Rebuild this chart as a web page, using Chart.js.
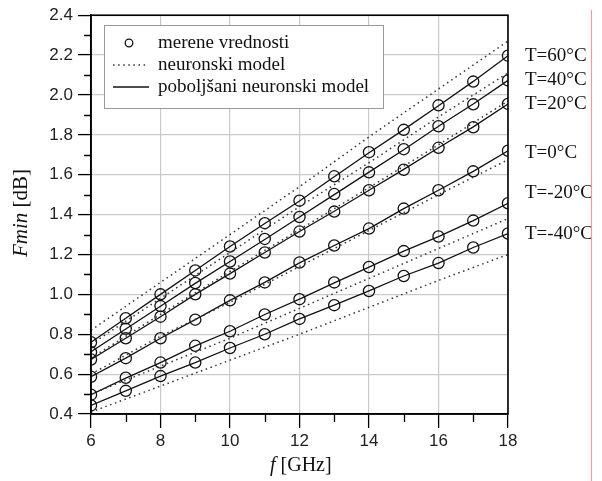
<!DOCTYPE html>
<html><head><meta charset="utf-8">
<script src="https://cdn.jsdelivr.net/npm/chart.js@4/dist/chart.umd.min.js"></script>
<style>html,body{margin:0;padding:0;background:#fff;}canvas{display:block;}</style>
</head><body>
<canvas id="c" width="602" height="481"></canvas>
<script>
// ---- data ----
const freqs = [6,7,8,9,10,11,12,13,14,15,16,17,18];
const modelFreqs = [6,8,10,12,14,16,18];
const tempLabels = ['T=60°C','T=40°C','T=20°C','T=0°C','T=-20°C','T=-40°C'];

// merene vrednosti (measured)
const meas60  = [0.76,0.88,1.00,1.12,1.24,1.357,1.47,1.592,1.713,1.825,1.948,2.067,2.197];
const meas40  = [0.71,0.827,0.941,1.057,1.165,1.278,1.388,1.503,1.612,1.728,1.843,1.953,2.073];
const meas20  = [0.673,0.78,0.888,1.0,1.104,1.21,1.315,1.415,1.522,1.625,1.735,1.838,1.955];
const meas0   = [0.587,0.68,0.78,0.873,0.97,1.06,1.16,1.245,1.33,1.43,1.522,1.617,1.72];
const measM20 = [0.497,0.582,0.658,0.742,0.815,0.899,0.976,1.06,1.137,1.217,1.29,1.37,1.457];
const measM40 = [0.443,0.516,0.59,0.658,0.731,0.80,0.877,0.946,1.017,1.092,1.157,1.235,1.305];

// poboljšani neuronski model (improved model, solid)
const imp60  = [0.76,0.88,1.00,1.12,1.24,1.355,1.468,1.59,1.71,1.826,1.946,2.068,2.197];
const imp40  = [0.712,0.826,0.94,1.055,1.165,1.275,1.388,1.50,1.613,1.725,1.843,1.955,2.073];
const imp20  = [0.673,0.78,0.888,1.0,1.104,1.21,1.315,1.417,1.522,1.627,1.735,1.84,1.955];
const imp0   = [0.587,0.68,0.78,0.873,0.97,1.06,1.158,1.245,1.33,1.43,1.522,1.617,1.72];
const impM20 = [0.497,0.58,0.658,0.742,0.815,0.899,0.976,1.058,1.137,1.217,1.29,1.37,1.457];
const impM40 = [0.443,0.516,0.59,0.658,0.731,0.80,0.877,0.946,1.017,1.092,1.157,1.235,1.305];

// neuronski model (dotted), read at 6,8,...,18 GHz
const nn60  = [0.82,1.06,1.30,1.54,1.79,2.03,2.27];
const nn40  = [0.75,0.98,1.21,1.44,1.66,1.89,2.11];
const nn20  = [0.68,0.90,1.115,1.325,1.535,1.75,1.97];
const nn0   = [0.60,0.79,0.96,1.14,1.32,1.50,1.675];
const nnM20 = [0.50,0.64,0.78,0.93,1.08,1.23,1.38];
const nnM40 = [0.41,0.54,0.67,0.80,0.935,1.07,1.20];

const xTicks = [6,8,10,12,14,16,18];
const xMinor = [7,9,11,13,15,17];
const yTicks = [0.4,0.6,0.8,1.0,1.2,1.4,1.6,1.8,2.0,2.2,2.4];
const yMinor = [0.5,0.7,0.9,1.1,1.3,1.5,1.7,1.9,2.1,2.3];
const legendLabels = ['merene vrednosti','neuronski model','poboljšani neuronski model'];
const xTitleItalic = 'f', xTitleRest = ' [GHz]';
const yTitleItalic = 'Fmin', yTitleRest = ' [dB]';

// ---- build datasets ----
const measAll = [meas60,meas40,meas20,meas0,measM20,measM40];
const impAll = [imp60,imp40,imp20,imp0,impM20,impM40];
const nnAll = [nn60,nn40,nn20,nn0,nnM20,nnM40];
const pts = (xs, ys) => xs.map((x,i)=>({x:x,y:ys[i]}));
const datasets = [];
nnAll.forEach(arr=>datasets.push({
  type:'line', data:pts(modelFreqs,arr), borderColor:'#333', borderWidth:1.5,
  borderDash:[1.5,3.6], pointRadius:0, fill:false, tension:0
}));
impAll.forEach(arr=>datasets.push({
  type:'line', data:pts(freqs,arr), borderColor:'#111', borderWidth:1.3,
  pointRadius:0, fill:false, tension:0
}));
measAll.forEach(arr=>datasets.push({
  type:'scatter', data:pts(freqs,arr), showLine:false, pointStyle:'circle',
  pointRadius:5.6, pointBorderWidth:1.3, borderColor:'#111', backgroundColor:'rgba(0,0,0,0)'
}));

const labelOffsets = [0,0,0,2,-10,0];
const serif = '"Liberation Serif","Times New Roman",serif';
const sans = '"Liberation Sans",Arial,sans-serif';

const deco = {
  id:'deco',
  beforeDraw(chart){
    const c = chart.ctx;
    c.save(); c.fillStyle='#fff'; c.fillRect(0,0,chart.width,chart.height); c.restore();
  },
  afterDraw(chart){
    const c = chart.ctx, a = chart.chartArea;
    const xs = chart.scales.x, ys = chart.scales.y;
    c.save();
    // frame
    c.strokeStyle='#000'; c.lineWidth=1.6;
    c.strokeRect(a.left, a.top, a.right-a.left, a.bottom-a.top);
    // minor ticks
    c.lineWidth=1.3;
    c.beginPath();
    xMinor.forEach(v=>{const p=Math.round(xs.getPixelForValue(v))+0.5; c.moveTo(p,a.bottom); c.lineTo(p,a.bottom+8);});
    yMinor.forEach(v=>{const p=Math.round(ys.getPixelForValue(v))+0.5; c.moveTo(a.left,p); c.lineTo(a.left-7,p);});
    c.stroke();
    // legend box
    const lx=104, ly=25, lw=279, lh=83;
    c.fillStyle='#fff'; c.fillRect(lx,ly,lw,lh);
    c.strokeStyle='#999'; c.lineWidth=1; c.strokeRect(lx+0.5,ly+0.5,lw,lh);
    const rows=[43,65,87];
    c.strokeStyle='#111'; c.lineWidth=1.3;
    c.beginPath(); c.arc(129,rows[0],3.8,0,Math.PI*2); c.stroke();
    c.strokeStyle='#333'; c.lineWidth=1.5; c.setLineDash([1.5,3.6]);
    c.beginPath(); c.moveTo(113,rows[1]); c.lineTo(147,rows[1]); c.stroke();
    c.setLineDash([]); c.strokeStyle='#111'; c.lineWidth=1.5;
    c.beginPath(); c.moveTo(113,rows[2]); c.lineTo(149,rows[2]); c.stroke();
    c.fillStyle='#111'; c.font='19px '+serif; c.textBaseline='middle'; c.textAlign='left';
    legendLabels.forEach((t,i)=>c.fillText(t,158,rows[i]));
    // right temperature labels
    c.font='19px '+serif;
    measAll.forEach((arr,i)=>{
      const y = ys.getPixelForValue(arr[arr.length-1]) + labelOffsets[i];
      c.fillText(tempLabels[i], a.right+17, y);
    });
    // x title
    c.textBaseline='middle';
    const xt = 270, yt = 466;
    c.font='italic 20px '+serif; c.fillText(xTitleItalic, xt, yt);
    const wf = c.measureText(xTitleItalic).width;
    c.font='20px '+serif; c.fillText(xTitleRest, xt+wf, yt);
    // y title
    c.save(); c.translate(21, 213); c.rotate(-Math.PI/2);
    c.font='italic 21px '+serif;
    const w1=c.measureText(yTitleItalic).width;
    c.font='21px '+serif;
    const w2=c.measureText(yTitleRest).width;
    const start=-(w1+w2)/2;
    c.font='italic 21px '+serif; c.fillText(yTitleItalic,start,0);
    c.font='21px '+serif; c.fillText(yTitleRest,start+w1,0);
    c.restore();
    // red margin line
    c.strokeStyle='#f29a9a'; c.lineWidth=1.2;
    c.beginPath(); c.moveTo(591.5,10); c.lineTo(591.5,481); c.stroke();
    c.restore();
  }
};

new Chart(document.getElementById('c'), {
  data:{datasets:datasets},
  options:{
    responsive:false, animation:false, devicePixelRatio:1,
    layout:{padding:{left:0,top:15,right:94,bottom:0}},
    plugins:{legend:{display:false}, tooltip:{enabled:false}},
    scales:{
      x:{type:'linear', min:6, max:18,
        afterBuildTicks:s=>{s.ticks=xTicks.map(v=>({value:v}));},
        afterFit:s=>{s.height=67;},
        grid:{color:'#c9c9c9', lineWidth:1.2, tickColor:'#000', tickLength:14, tickWidth:1.3},
        border:{color:'#000', width:1.6},
        ticks:{color:'#222', font:{family:sans, size:17}, padding:3, maxRotation:0, callback:v=>String(v)}
      },
      y:{type:'linear', min:0.4, max:2.4,
        afterBuildTicks:s=>{s.ticks=yTicks.map(v=>({value:v}));},
        afterFit:s=>{s.width=91;},
        grid:{color:'#c9c9c9', lineWidth:1.2, tickColor:'#000', tickLength:13, tickWidth:1.3},
        border:{color:'#000', width:1.6},
        ticks:{color:'#222', font:{family:sans, size:17}, padding:5, callback:v=>v.toFixed(1)}
      }
    }
  },
  plugins:[deco]
});
</script>
</body></html>
